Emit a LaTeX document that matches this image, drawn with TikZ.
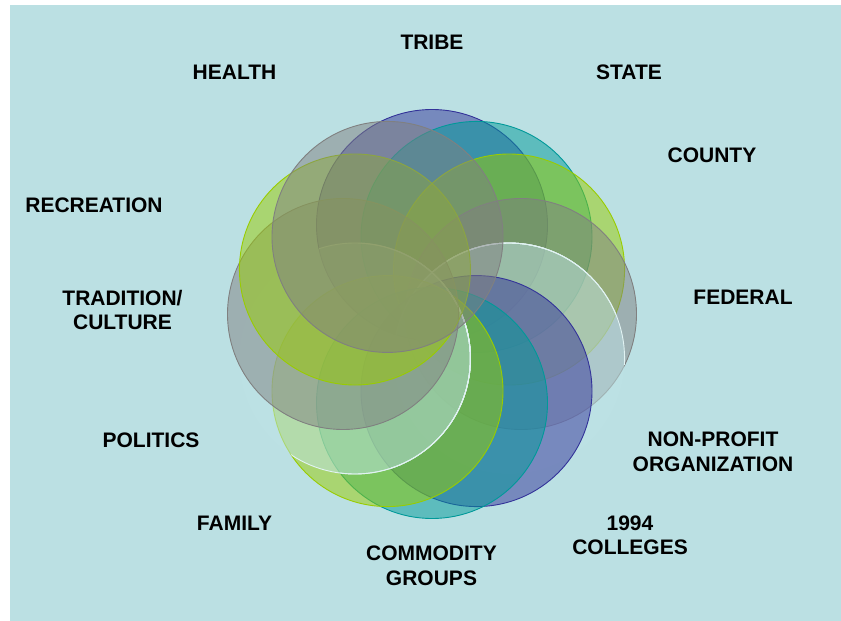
\documentclass[tikz,border=0pt]{standalone}
\usepackage{fontspec}
\setmainfont{Liberation Sans}
\definecolor{bgc}{RGB}{187,224,227}
\definecolor{cblue}{RGB}{51,51,153}
\definecolor{cteal}{RGB}{0,153,153}
\definecolor{clime}{RGB}{153,204,0}
\definecolor{cgray}{RGB}{128,128,128}
\definecolor{clightfill}{RGB}{190,226,229}
\definecolor{clightline}{RGB}{225,243,243}
\begin{document}
\begin{tikzpicture}[x=1pt,y=-1pt,
  ring/.style={line width=0.9pt, fill opacity=0.5},
  rblue/.style={ring, fill=cblue, draw=cblue},
  rteal/.style={ring, fill=cteal, draw=cteal},
  rlime/.style={ring, fill=clime, draw=clime},
  rgray/.style={ring, fill=cgray, draw=cgray},
  rlightfill/.style={fill=clightfill, fill opacity=0.5},
  rlightline/.style={draw=clightline, line width=0.9pt},
  lbl/.style={font=\fontsize{21}{24.5}\selectfont\bfseries, align=center, inner sep=0pt, text=black}]
\useasboundingbox (0,0) rectangle (841,621);
\fill[white] (0,0) rectangle (841,621);
\fill[bgc] (10,5) rectangle (841,621);
\foreach \a/\n in {-90/p1,-60/p2,-30/p3,0/p4,30/p5,60/p6,90/p7,120/p8,150/p9,180/p10,210/p11,240/p12}
  \coordinate[shift={(432,314)}] (\n) at (\a:89);
\def\rr{115.5pt}
\draw[rblue] (p1) circle[radius=\rr];
\draw[rteal] (p2) circle[radius=\rr];
\draw[rlime] (p3) circle[radius=\rr];
\draw[rgray] (p4) circle[radius=\rr];
\fill[rlightfill] (p5) circle[radius=\rr];
\foreach \q in {p1,p2,p3,p4}{
  \begin{scope}
    \clip (\q) circle[radius=\rr];
    \draw[rlightline] (p5) circle[radius=\rr];
  \end{scope}}
\draw[rblue] (p6) circle[radius=\rr];
\draw[rteal] (p7) circle[radius=\rr];
\draw[rlime] (p8) circle[radius=\rr];
\fill[rlightfill] (p9) circle[radius=\rr];
\foreach \q in {p1,p2,p3,p4,p5,p6,p7,p8}{
  \begin{scope}
    \clip (\q) circle[radius=\rr];
    \draw[rlightline] (p9) circle[radius=\rr];
  \end{scope}}
\draw[rgray] (p10) circle[radius=\rr];
\draw[rlime] (p11) circle[radius=\rr];
\draw[rgray] (p12) circle[radius=\rr];
\node[lbl] (tribe) at (432,42) {TRIBE};
\node[lbl] (health) at (234.5,72.5) {HEALTH};
\node[lbl] (state) at (629,72.5) {STATE};
\node[lbl] (county) at (712,155) {COUNTY};
\node[lbl] (recreation) at (94,205) {RECREATION};
\node[lbl] (federal) at (743,297) {FEDERAL};
\node[lbl] (tradition) at (122.5,310) {TRADITION/\\CULTURE};
\node[lbl] (politics) at (151,440.5) {POLITICS};
\node[lbl] (nonprofit) at (713,452) {NON-PROFIT\\ORGANIZATION};
\node[lbl] (family) at (234.5,523.5) {FAMILY};
\node[lbl] (colleges) at (630,535.5) {1994\\COLLEGES};
\node[lbl] (commodity) at (431.5,566) {COMMODITY\\GROUPS};
\end{tikzpicture}
\end{document}
